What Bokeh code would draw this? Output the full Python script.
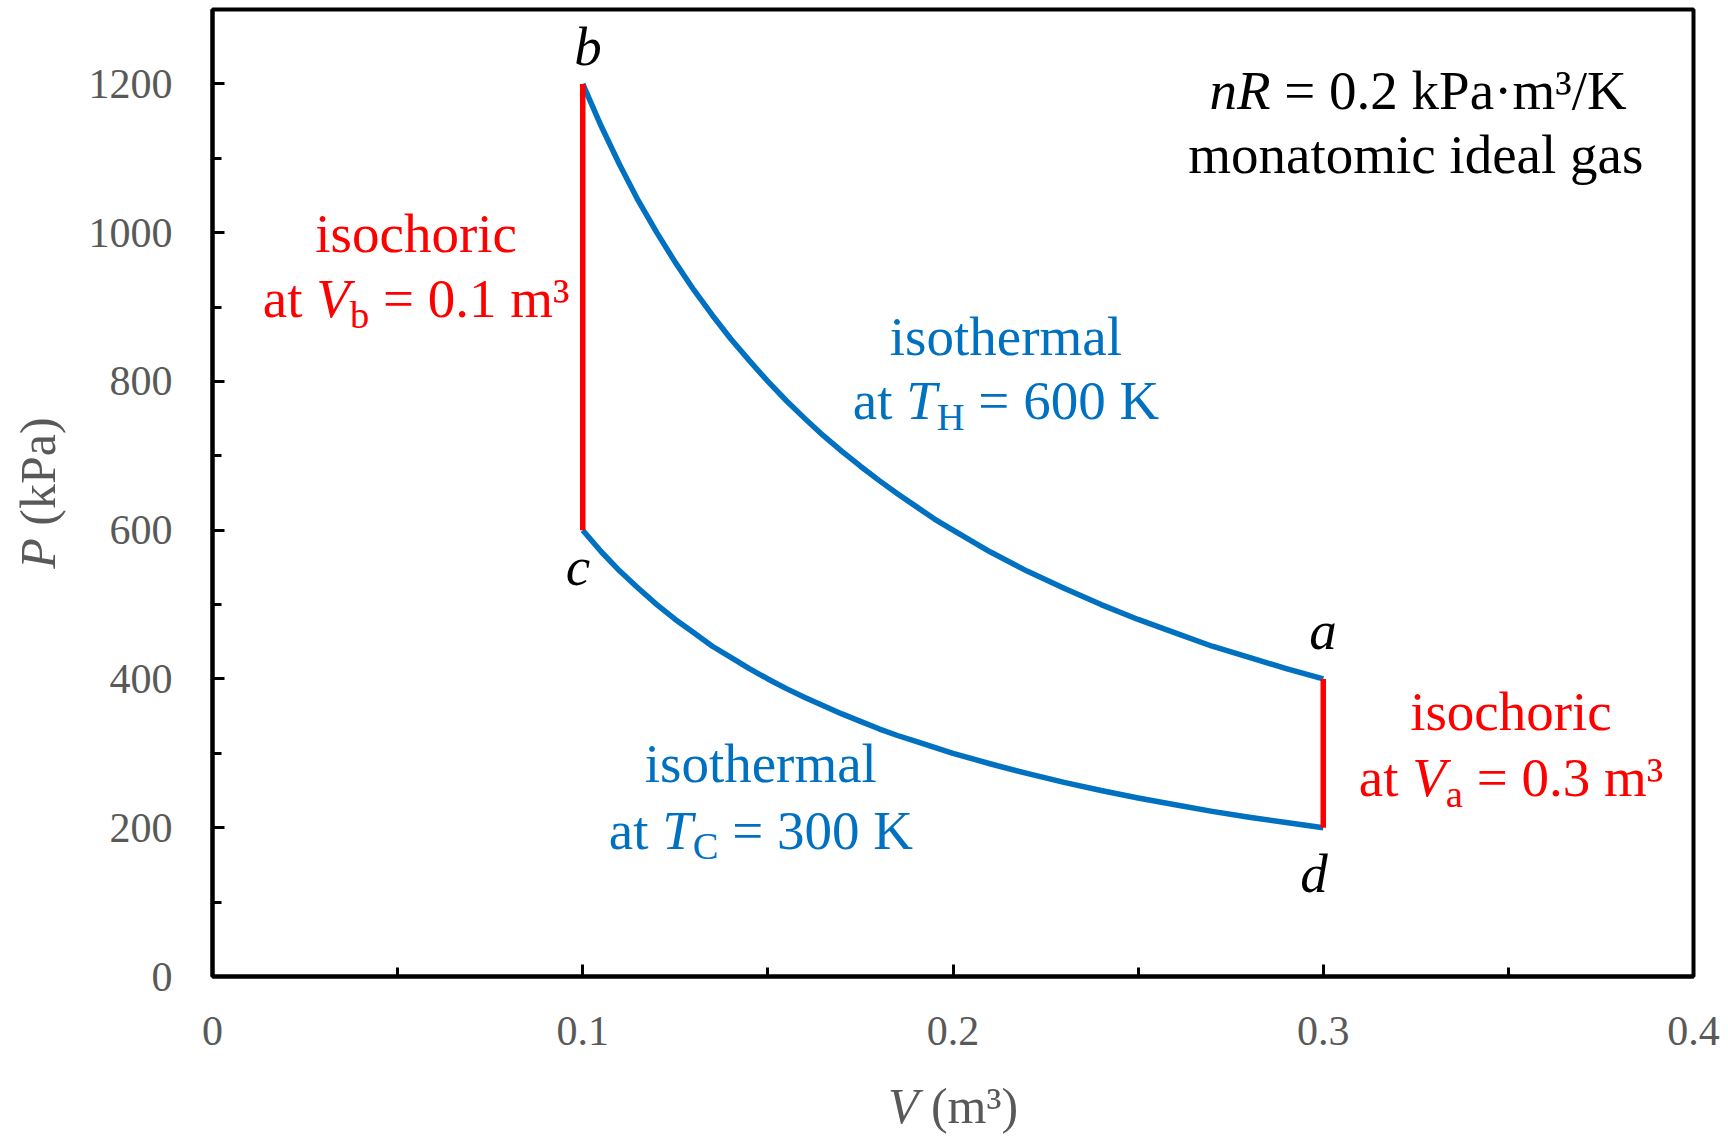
import math
from bokeh.plotting import figure
from bokeh.models import Range1d, FixedTicker, Label
from bokeh.layouts import row, column
from bokeh.embed import file_html
from bokeh.resources import INLINE

# ---------------- data ----------------
V_hot = [0.100, 0.105, 0.110, 0.115, 0.120, 0.125, 0.130, 0.135, 0.140, 0.145,
         0.150, 0.155, 0.160, 0.165, 0.170, 0.175, 0.180, 0.185, 0.190, 0.195,
         0.200, 0.210, 0.220, 0.230, 0.240, 0.250, 0.260, 0.270, 0.280, 0.290, 0.300]
P_hot = [1200, 1143, 1091, 1043, 1000, 960, 923, 889, 857, 828,
         800, 774, 750, 727, 706, 686, 667, 649, 632, 615,
         600, 571, 545, 522, 500, 480, 462, 444, 429, 414, 400]
V_cold = [0.100, 0.105, 0.110, 0.115, 0.120, 0.125, 0.130, 0.135, 0.140, 0.145,
          0.150, 0.155, 0.160, 0.165, 0.170, 0.175, 0.180, 0.185, 0.190, 0.195,
          0.200, 0.210, 0.220, 0.230, 0.240, 0.250, 0.260, 0.270, 0.280, 0.290, 0.300]
P_cold = [600, 571, 545, 522, 500, 480, 462, 444, 429, 414,
          400, 387, 375, 364, 353, 343, 333, 324, 316, 308,
          300, 286, 273, 261, 250, 240, 231, 222, 214, 207, 200]
V_isochoric_b = [0.1, 0.1]
P_isochoric_b = [600, 1200]
V_isochoric_a = [0.3, 0.3]
P_isochoric_a = [200, 400]

x_ticks = [0, 0.1, 0.2, 0.3, 0.4]
x_tick_labels = ["0", "0.1", "0.2", "0.3", "0.4"]
x_minor = [0.05, 0.15, 0.25, 0.35]
y_ticks = [0, 200, 400, 600, 800, 1000, 1200]
y_tick_labels = ["0", "200", "400", "600", "800", "1000", "1200"]
y_minor = [100, 300, 500, 700, 900, 1100]

state_names = ["a", "b", "c", "d"]

# ---------------- style ----------------
FONT = "Liberation Serif"
BLUE = "#0070C0"
RED = "#FF0000"
GRAY = "#595959"
ANN = 55          # annotation font size (px)
SUB = 0.70        # subscript scale
SUB_SHIFT = 0.19  # subscript drop (em)
BASE_FIX = 0.364  # baseline correction (em)

# Times / Liberation Serif advance widths (per 1000 em)
REG = {' ': 250, 'a': 444, 'b': 500, 'c': 444, 'd': 500, 'e': 444, 'g': 500,
       'h': 500, 'i': 278, 'k': 500, 'l': 278, 'm': 778, 'n': 500, 'o': 500,
       'r': 333, 's': 389, 't': 278, '=': 564, '.': 250, '³': 300, '·': 250,
       '/': 278, '(': 333, ')': 333, 'K': 722, 'P': 556, 'H': 722, 'C': 667}
ITA = {'V': 611, 'T': 556, 'P': 611, 'n': 500, 'R': 611, 'a': 500, 'b': 500,
       'c': 444, 'd': 500}


def tw(s, italic, size):
    t = ITA if italic else REG
    return sum(t.get(ch, 500) for ch in s) / 1000.0 * size


YLAB_W = 80
MAIN_W = 1728 - YLAB_W
MAIN_H = 1060
XLAB_H = 1136 - MAIN_H
BORDER_L = 212 - YLAB_W
BORDER_R = 35
BORDER_T = 9
BORDER_B = MAIN_H - 976

p = figure(width=MAIN_W, height=MAIN_H, output_backend="svg", toolbar_location=None,
           x_range=Range1d(0, 0.4), y_range=Range1d(0, 1300),
           min_border_left=BORDER_L, min_border_right=BORDER_R,
           min_border_top=BORDER_T, min_border_bottom=BORDER_B)
p.title = None
p.background_fill_color = "white"
p.border_fill_color = "white"
p.outline_line_color = "black"
p.outline_line_width = 4
p.xgrid.visible = False
p.ygrid.visible = False

for ax, ticks, minor, labels, standoff in (
        (p.xaxis[0], x_ticks, x_minor, x_tick_labels, 40),
        (p.yaxis[0], y_ticks, y_minor, y_tick_labels, 40)):
    ax.ticker = FixedTicker(ticks=ticks, minor_ticks=minor)
    ax.major_label_overrides = {t: l for t, l in zip(ticks, labels)}
    ax.axis_line_color = "black"
    ax.axis_line_width = 4
    ax.major_tick_in = 12
    ax.major_tick_out = 0
    ax.minor_tick_in = 9
    ax.minor_tick_out = 0
    ax.major_tick_line_color = "black"
    ax.major_tick_line_width = 3
    ax.minor_tick_line_color = "black"
    ax.minor_tick_line_width = 3
    ax.major_label_text_font = FONT
    ax.major_label_text_font_size = "42px"
    ax.major_label_text_color = GRAY
    ax.major_label_standoff = standoff
    ax.axis_label = None

# ---------------- curves ----------------
p.line(V_hot, P_hot, line_color=BLUE, line_width=5.5, line_join="round")
p.line(V_cold, P_cold, line_color=BLUE, line_width=5.5, line_join="round")
p.line(V_isochoric_b, P_isochoric_b, line_color=RED, line_width=5.5)
p.line(V_isochoric_a, P_isochoric_a, line_color=RED, line_width=5.5)


# ---------------- rich text helper ----------------
def rich(fig, segs, x, y, color, size, vertical=False):
    """segs: list of (text, italic, subscript); centered at (x, y) baseline."""
    ws = []
    for t, it, sub in segs:
        fs = size * SUB if sub else size
        ws.append(tw(t, it, fs))
    total = sum(ws)
    off = -total / 2
    for (t, it, sub), w in zip(segs, ws):
        fs = size * SUB if sub else size
        lead = len(t) - len(t.lstrip(' '))
        o = off + lead * REG[' '] / 1000.0 * fs
        lift = (-SUB_SHIFT * size if sub else 0) + BASE_FIX * fs
        kw = dict(x=x, y=y, text=t.strip(' '), text_font=FONT,
                  text_font_size=f"{fs:.1f}px",
                  text_font_style="italic" if it else "normal",
                  text_color=color, text_align="left",
                  text_baseline="alphabetic")
        if vertical:
            kw.update(angle=math.pi / 2, x_offset=-lift, y_offset=o)
        else:
            kw.update(x_offset=o, y_offset=lift)
        fig.add_layout(Label(**kw))
        off += w


# annotation blocks (anchors in data units)
rich(p, [("isochoric", False, False)], 0.055, 972, RED, ANN)
rich(p, [("at ", False, False), ("V", True, False), ("b", False, True),
         (" = 0.1 m³", False, False)], 0.055, 884, RED, ANN)

rich(p, [("isothermal", False, False)], 0.2143, 833, BLUE, ANN)
rich(p, [("at ", False, False), ("T", True, False), ("H", False, True),
         (" = 600 K", False, False)], 0.2143, 747, BLUE, ANN)

rich(p, [("isothermal", False, False)], 0.1481, 260, BLUE, ANN)
rich(p, [("at ", False, False), ("T", True, False), ("C", False, True),
         (" = 300 K", False, False)], 0.1481, 170, BLUE, ANN)

rich(p, [("isochoric", False, False)], 0.3507, 330, RED, ANN)
rich(p, [("at ", False, False), ("V", True, False), ("a", False, True),
         (" = 0.3 m³", False, False)], 0.3507, 241, RED, ANN)

rich(p, [("nR", True, False), (" = 0.2 kPa·m³/K", False, False)], 0.325, 1164, "black", ANN)
rich(p, [("monatomic ideal gas", False, False)], 0.325, 1078, "black", ANN)

# state labels
state_x = [0.2999, 0.1014, 0.0987, 0.2975]
state_y = [438, 1223, 524, 111]
for name, sx, sy in zip(state_names, state_x, state_y):
    rich(p, [(name, True, False)], sx, sy, "black", ANN)


# ---------------- axis titles (in their own strips) ----------------
def strip(width, height, x_range, y_range, bl, br, bt, bb):
    f = figure(width=width, height=height, output_backend="svg", toolbar_location=None,
               x_range=x_range, y_range=y_range, x_axis_location=None,
               y_axis_location=None, min_border_left=bl, min_border_right=br,
               min_border_top=bt, min_border_bottom=bb)
    f.title = None
    f.outline_line_color = None
    f.background_fill_color = "white"
    f.border_fill_color = "white"
    f.grid.visible = False
    return f


xlab = strip(MAIN_W, XLAB_H, p.x_range, Range1d(0, XLAB_H), BORDER_L, BORDER_R, 0, 0)
rich(xlab, [("V", True, False), (" (m³)", False, False)], 0.2, 12, GRAY, 50)

ylab = strip(YLAB_W, MAIN_H, Range1d(0, YLAB_W), p.y_range, 0, 0, BORDER_T, BORDER_B)
rich(ylab, [("P", True, False), (" (kPa)", False, False)], 56, 650, GRAY, 50, vertical=True)

layout = row(ylab, column(p, xlab))
open("out.html", "w").write(file_html(layout, INLINE))
